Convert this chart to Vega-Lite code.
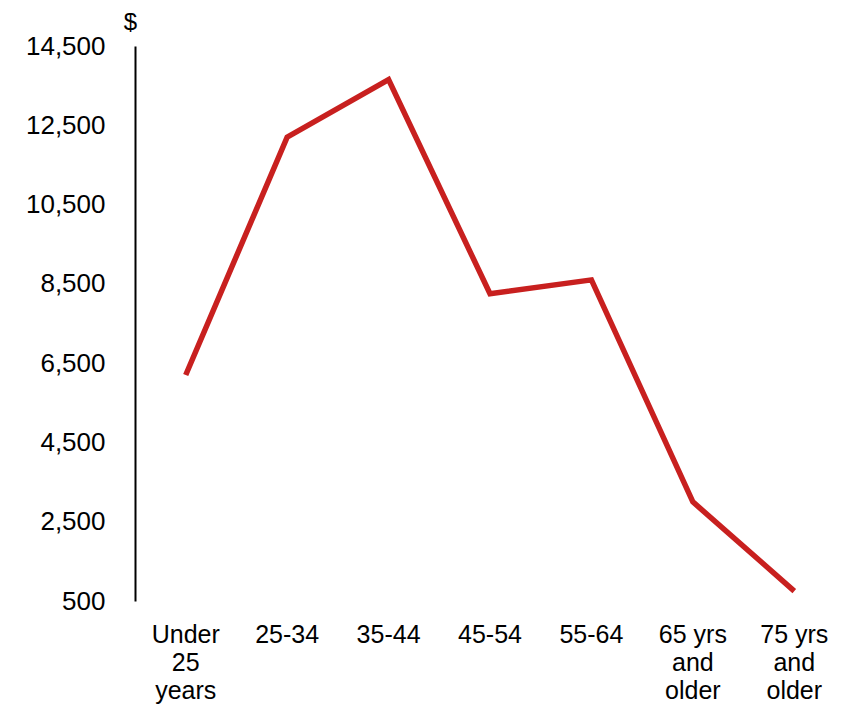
{
  "$schema": "https://vega.github.io/schema/vega-lite/v6.json",
  "width": 710,
  "height": 555,
  "autosize": {"type": "none"},
  "padding": {"left": 135, "top": 46, "right": 9, "bottom": 105},
  "background": "white",
  "config": {
    "view": {"stroke": null},
    "font": "Liberation Sans"
  },
  "data": {
    "values": [
      {"age": "Under|25|years", "spending": 6200},
      {"age": "25-34", "spending": 12200},
      {"age": "35-44", "spending": 13650},
      {"age": "45-54", "spending": 8250},
      {"age": "55-64", "spending": 8600},
      {"age": "65 yrs|and|older", "spending": 3000},
      {"age": "75 yrs|and|older", "spending": 750}
    ]
  },
  "mark": {"type": "line", "color": "#C8201F", "strokeWidth": 5.5, "strokeJoin": "miter", "strokeCap": "butt"},
  "encoding": {
    "x": {
      "field": "age",
      "type": "nominal",
      "sort": null,
      "scale": {"type": "band", "paddingInner": 0, "paddingOuter": 0},
      "axis": {
        "title": null,
        "domain": false,
        "ticks": false,
        "labelAngle": 0,
        "labelExpr": "split(datum.value, '|')",
        "labelFontSize": 25,
        "labelLineHeight": 28,
        "labelColor": "#000000",
        "labelPadding": 21,
        "labelBaseline": "top"
      }
    },
    "y": {
      "field": "spending",
      "type": "quantitative",
      "scale": {"domain": [500, 14500], "nice": false, "zero": false},
      "axis": {
        "title": "$",
        "titleAngle": 0,
        "titleAlign": "center",
        "titleBaseline": "middle",
        "titleX": -5,
        "titleY": -24,
        "titleFontSize": 24,
        "titleFontWeight": "normal",
        "titleColor": "#000000",
        "values": [500, 2500, 4500, 6500, 8500, 10500, 12500, 14500],
        "format": ",d",
        "grid": false,
        "ticks": false,
        "domainColor": "#000000",
        "domainWidth": 2,
        "labelFontSize": 26,
        "labelColor": "#000000",
        "labelPadding": 30
      }
    }
  }
}
